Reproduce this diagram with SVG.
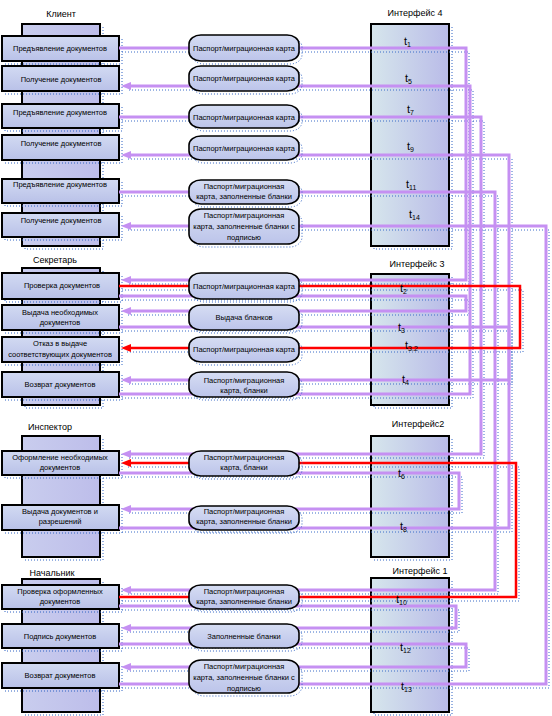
<svg xmlns="http://www.w3.org/2000/svg" width="552" height="716" viewBox="0 0 552 716">
<defs>
<linearGradient id="gBox" x1="0" y1="0" x2="0" y2="1"><stop offset="0" stop-color="#d2daf2"/><stop offset="1" stop-color="#b9c1e8"/></linearGradient>
<linearGradient id="gPillar" x1="0" y1="0" x2="1" y2="0"><stop offset="0" stop-color="#c9cdee"/><stop offset="1" stop-color="#bdbdea"/></linearGradient>
<linearGradient id="gOval" x1="0" y1="0" x2="0" y2="1"><stop offset="0" stop-color="#d6ddf3"/><stop offset="1" stop-color="#bcc4ea"/></linearGradient>
<linearGradient id="gIface" x1="0" y1="0" x2="1" y2="0"><stop offset="0" stop-color="#d6e6ec"/><stop offset="1" stop-color="#b9bbe8"/></linearGradient>
<marker id="ap" markerUnits="userSpaceOnUse" markerWidth="12" markerHeight="10" refX="0" refY="4" orient="auto" overflow="visible"><path d="M0,0 L10,4 L0,8 Z" fill="#c590f2"/></marker>
<marker id="ar" markerUnits="userSpaceOnUse" markerWidth="12" markerHeight="10" refX="0" refY="4" orient="auto" overflow="visible"><path d="M0,0 L10,4 L0,8 Z" fill="#ff0000"/></marker>
</defs>
<style>
.pillar{fill:url(#gPillar);stroke:#000;stroke-width:2}
.box{fill:url(#gBox);stroke:#000;stroke-width:2}
.oval{fill:url(#gOval);stroke:#000;stroke-width:1.6}
.iface{fill:url(#gIface);stroke:#000;stroke-width:2}
.sh{fill:none;stroke:#2f62c4;stroke-width:1;stroke-dasharray:1 2}
.lbl{font-family:"Liberation Sans",Arial,sans-serif;font-size:7.5px;fill:#000;text-anchor:middle}
.ttl{font-family:"Liberation Sans",Arial,sans-serif;font-size:9px;fill:#000;text-anchor:middle}
.tl{font-family:"Liberation Sans",Arial,sans-serif;font-size:11px;fill:#000}
.sub{font-size:7px}
.pl{fill:none;stroke:#c590f2;stroke-width:3}
.rl{fill:none;stroke:#ff0000;stroke-width:2.5}
.lsh{fill:none;stroke:#3a6cc8;stroke-width:1;stroke-dasharray:1 2}
</style>
<rect width="552" height="716" fill="#fff"/>

<!-- Lane: Client -->
<g id="lane-client">
<text class="ttl" x="61" y="17">Клиент</text>
<rect class="sh" x="25" y="27" width="78" height="222"/>
<rect class="pillar" x="22" y="24" width="78" height="222"/>
</g>
<g id="client-1"><rect class="sh" x="5" y="39" width="117" height="25"/><rect class="box" x="2" y="36" width="117" height="25"/><text class="lbl" x="60" y="51">Предъявление документов</text></g>
<g id="client-2"><rect class="sh" x="5" y="69" width="117" height="25"/><rect class="box" x="2" y="66" width="117" height="25"/><text class="lbl" x="61" y="82">Получение документов</text></g>
<g id="client-3"><rect class="sh" x="5" y="107" width="117" height="24"/><rect class="box" x="2" y="104" width="117" height="24"/><text class="lbl" x="60" y="115">Предъявление документов</text></g>
<g id="client-4"><rect class="sh" x="5" y="138" width="117" height="25"/><rect class="box" x="2" y="135" width="117" height="25"/><text class="lbl" x="61" y="146">Получение документов</text></g>
<g id="client-5"><rect class="sh" x="5" y="182" width="117" height="24"/><rect class="box" x="2" y="179" width="117" height="24"/><text class="lbl" x="60" y="187">Предъявление документов</text></g>
<g id="client-6"><rect class="sh" x="5" y="216" width="117" height="24"/><rect class="box" x="2" y="213" width="117" height="24"/><text class="lbl" x="61" y="223">Получение документов</text></g>

<!-- Lane: Secretary -->
<g id="lane-secretary">
<text class="ttl" x="55" y="263">Секретарь</text>
<rect class="sh" x="25" y="271" width="78" height="137"/>
<rect class="pillar" x="22" y="268" width="78" height="137"/>
</g>
<g id="sec-1"><rect class="sh" x="5" y="276" width="117" height="26"/><rect class="box" x="2" y="273" width="117" height="26"/><text class="lbl" x="62" y="288">Проверка документов</text></g>
<g id="sec-2"><rect class="sh" x="5" y="308" width="117" height="25"/><rect class="box" x="2" y="305" width="117" height="25"/><text class="lbl" x="60" y="315">Выдача необходимых</text><text class="lbl" x="60" y="325">документов</text></g>
<g id="sec-3"><rect class="sh" x="5" y="340" width="117" height="25"/><rect class="box" x="2" y="337" width="117" height="25"/><text class="lbl" x="60" y="346">Отказ в выдаче</text><text class="lbl" x="60" y="357">соответствующих документов</text></g>
<g id="sec-4"><rect class="sh" x="5" y="375" width="117" height="25"/><rect class="box" x="2" y="372" width="117" height="25"/><text class="lbl" x="60" y="387">Возврат документов</text></g>

<!-- Lane: Inspector -->
<g id="lane-inspector">
<text class="ttl" x="50" y="430">Инспектор</text>
<rect class="sh" x="25" y="439" width="78" height="121"/>
<rect class="pillar" x="22" y="436" width="78" height="121"/>
</g>
<g id="insp-1"><rect class="sh" x="5" y="454" width="117" height="24"/><rect class="box" x="2" y="451" width="117" height="24"/><text class="lbl" x="60" y="460">Оформление необходимых</text><text class="lbl" x="60" y="470">документов</text></g>
<g id="insp-2"><rect class="sh" x="5" y="508" width="117" height="25"/><rect class="box" x="2" y="505" width="117" height="25"/><text class="lbl" x="60" y="514">Выдача документов и</text><text class="lbl" x="60" y="524">разрешений</text></g>

<!-- Lane: Chief -->
<g id="lane-chief">
<text class="ttl" x="52" y="576">Начальник</text>
<rect class="sh" x="25" y="582" width="78" height="133"/>
<rect class="pillar" x="22" y="579" width="78" height="133"/>
</g>
<g id="chief-1"><rect class="sh" x="5" y="588" width="117" height="24"/><rect class="box" x="2" y="585" width="117" height="24"/><text class="lbl" x="60" y="594">Проверка оформленных</text><text class="lbl" x="60" y="604">документов</text></g>
<g id="chief-2"><rect class="sh" x="5" y="627" width="117" height="24"/><rect class="box" x="2" y="624" width="117" height="24"/><text class="lbl" x="60" y="639">Подпись документов</text></g>
<g id="chief-3"><rect class="sh" x="5" y="666" width="117" height="25"/><rect class="box" x="2" y="663" width="117" height="25"/><text class="lbl" x="60" y="678">Возврат документов</text></g>

<!-- Interfaces -->
<g id="iface-4">
<text class="ttl" x="415" y="16">Интерфейс 4</text>
<rect class="sh" x="374" y="27" width="78" height="222"/>
<rect class="iface" x="371" y="24" width="78" height="222"/>
</g>
<g id="iface-3">
<text class="ttl" x="417" y="267">Интерфейс 3</text>
<rect class="sh" x="374" y="277" width="78" height="131"/>
<rect class="iface" x="371" y="274" width="78" height="131"/>
</g>
<g id="iface-2">
<text class="ttl" x="418" y="427">Интерфейс2</text>
<rect class="sh" x="374" y="439" width="78" height="121"/>
<rect class="iface" x="371" y="436" width="78" height="121"/>
</g>
<g id="iface-1">
<text class="ttl" x="420" y="574">Интерфейс 1</text>
<rect class="sh" x="374" y="581" width="78" height="134"/>
<rect class="iface" x="371" y="578" width="78" height="134"/>
</g>

<!-- Connectors -->
<g id="connectors">
<g transform="translate(3,4)">
<path class="lsh" d="M119,48 H466 V280 H124"/>
<path class="lsh" d="M119,296 H466 V311 H124"/>
<path class="lsh" d="M119,286 H520 V348 H124"/>
<path class="lsh" d="M119,327 H509 V380 H124"/>
<path class="lsh" d="M119,394 H470 V86 H124"/>
<path class="lsh" d="M119,117 H481 V454 H124"/>
<path class="lsh" d="M119,473 H459 V509 H124"/>
<path class="lsh" d="M119,528 H509 V155 H124"/>
<path class="lsh" d="M119,192 H495 V590 H124"/>
<path class="lsh" d="M119,597 H516 V463 H124"/>
<path class="lsh" d="M119,606 H456 V628 H124"/>
<path class="lsh" d="M119,644 H466 V667 H124"/>
<path class="lsh" d="M119,684 H546 V226 H124"/>
</g>
<path class="pl" d="M119,48 H466 V280 H131" marker-end="url(#ap)"/>
<path class="pl" d="M119,296 H466 V311 H131" marker-end="url(#ap)"/>
<path class="pl" d="M119,327 H509 V380 H131" marker-end="url(#ap)"/>
<path class="pl" d="M119,394 H470 V86 H131" marker-end="url(#ap)"/>
<path class="pl" d="M119,117 H481 V454 H131" marker-end="url(#ap)"/>
<path class="pl" d="M119,473 H459 V509 H131" marker-end="url(#ap)"/>
<path class="pl" d="M119,528 H509 V155 H131" marker-end="url(#ap)"/>
<path class="pl" d="M119,192 H495 V590 H131" marker-end="url(#ap)"/>
<path class="pl" d="M119,606 H456 V628 H131" marker-end="url(#ap)"/>
<path class="pl" d="M119,644 H466 V667 H131" marker-end="url(#ap)"/>
<path class="pl" d="M119,684 H546 V226 H131" marker-end="url(#ap)"/>
<path class="rl" d="M119,286 H520 V348 H131" marker-end="url(#ar)"/>
<path class="rl" d="M119,597 H516 V463 H131" marker-end="url(#ar)"/>
</g>

<!-- Interface time labels -->
<g id="iface-labels">
<text class="tl" x="404" y="45">t<tspan class="sub" dy="2">1</tspan></text>
<text class="tl" x="405" y="82">t<tspan class="sub" dy="2">5</tspan></text>
<text class="tl" x="407" y="113">t<tspan class="sub" dy="2">7</tspan></text>
<text class="tl" x="407" y="150">t<tspan class="sub" dy="2">9</tspan></text>
<text class="tl" x="406" y="188">t<tspan class="sub" dy="2">11</tspan></text>
<text class="tl" x="409" y="218">t<tspan class="sub" dy="2">14</tspan></text>
<text class="tl" x="400" y="292">t<tspan class="sub" dy="2">2</tspan></text>
<text class="tl" x="398" y="331">t<tspan class="sub" dy="2">3</tspan></text>
<text class="tl" x="405" y="349">t<tspan class="sub" dy="2">3.2</tspan></text>
<text class="tl" x="402" y="383">t<tspan class="sub" dy="2">4</tspan></text>
<text class="tl" x="398" y="477">t<tspan class="sub" dy="2">6</tspan></text>
<text class="tl" x="400" y="530">t<tspan class="sub" dy="2">8</tspan></text>
<text class="tl" x="396" y="603">t<tspan class="sub" dy="2">10</tspan></text>
<text class="tl" x="400" y="651">t<tspan class="sub" dy="2">12</tspan></text>
<text class="tl" x="401" y="690">t<tspan class="sub" dy="2">13</tspan></text>
</g>

<!-- Document ovals -->
<g id="doc-1"><rect class="sh" x="192" y="38" width="110" height="26" rx="12" ry="9"/><rect class="oval" x="189" y="35" width="110" height="26" rx="12" ry="9"/><text class="lbl" x="244" y="51">Паспорт/миграционная карта</text></g>
<g id="doc-2"><rect class="sh" x="192" y="69" width="110" height="25" rx="12" ry="9"/><rect class="oval" x="189" y="66" width="110" height="25" rx="12" ry="9"/><text class="lbl" x="244" y="81">Паспорт/миграционная карта</text></g>
<g id="doc-3"><rect class="sh" x="192" y="108" width="110" height="23" rx="12" ry="9"/><rect class="oval" x="189" y="105" width="110" height="23" rx="12" ry="9"/><text class="lbl" x="244" y="120">Паспорт/миграционная карта</text></g>
<g id="doc-4"><rect class="sh" x="192" y="139" width="110" height="24" rx="12" ry="9"/><rect class="oval" x="189" y="136" width="110" height="24" rx="12" ry="9"/><text class="lbl" x="244" y="151">Паспорт/миграционная карта</text></g>
<g id="doc-5"><rect class="sh" x="192" y="183" width="110" height="24" rx="12" ry="9"/><rect class="oval" x="189" y="180" width="110" height="24" rx="12" ry="9"/><text class="lbl" x="244" y="189">Паспорт/миграционная</text><text class="lbl" x="244" y="199">карта, заполненные бланки</text></g>
<g id="doc-6"><rect class="sh" x="192" y="212" width="110" height="35" rx="12" ry="10"/><rect class="oval" x="189" y="209" width="110" height="35" rx="12" ry="10"/><text class="lbl" x="244" y="218">Паспорт/миграционная</text><text class="lbl" x="244" y="229">карта, заполненные бланки с</text><text class="lbl" x="244" y="240">подписью</text></g>
<g id="doc-7"><rect class="sh" x="192" y="276" width="110" height="26" rx="12" ry="9"/><rect class="oval" x="189" y="273" width="110" height="26" rx="12" ry="9"/><text class="lbl" x="244" y="289">Паспорт/миграционная карта</text></g>
<g id="doc-8"><rect class="sh" x="192" y="308" width="110" height="25" rx="12" ry="9"/><rect class="oval" x="189" y="305" width="110" height="25" rx="12" ry="9"/><text class="lbl" x="244" y="320">Выдача бланков</text></g>
<g id="doc-9"><rect class="sh" x="192" y="340" width="110" height="25" rx="12" ry="9"/><rect class="oval" x="189" y="337" width="110" height="25" rx="12" ry="9"/><text class="lbl" x="244" y="352">Паспорт/миграционная карта</text></g>
<g id="doc-10"><rect class="sh" x="192" y="375" width="110" height="25" rx="12" ry="9"/><rect class="oval" x="189" y="372" width="110" height="25" rx="12" ry="9"/><text class="lbl" x="244" y="383">Паспорт/миграционная</text><text class="lbl" x="244" y="393">карта, бланки</text></g>
<g id="doc-11"><rect class="sh" x="192" y="454" width="110" height="25" rx="12" ry="9"/><rect class="oval" x="189" y="451" width="110" height="25" rx="12" ry="9"/><text class="lbl" x="244" y="460">Паспорт/миграционная</text><text class="lbl" x="244" y="470">карта, бланки</text></g>
<g id="doc-12"><rect class="sh" x="192" y="509" width="110" height="24" rx="12" ry="9"/><rect class="oval" x="189" y="506" width="110" height="24" rx="12" ry="9"/><text class="lbl" x="244" y="514">Паспорт/миграционная</text><text class="lbl" x="244" y="524">карта, заполненные бланки</text></g>
<g id="doc-13"><rect class="sh" x="192" y="588" width="110" height="24" rx="12" ry="9"/><rect class="oval" x="189" y="585" width="110" height="24" rx="12" ry="9"/><text class="lbl" x="244" y="594">Паспорт/миграционная</text><text class="lbl" x="244" y="604">карта, заполненные бланки</text></g>
<g id="doc-14"><rect class="sh" x="192" y="627" width="110" height="24" rx="12" ry="9"/><rect class="oval" x="189" y="624" width="110" height="24" rx="12" ry="9"/><text class="lbl" x="244" y="639">Заполненные бланки</text></g>
<g id="doc-15"><rect class="sh" x="192" y="663" width="110" height="33" rx="12" ry="10"/><rect class="oval" x="189" y="660" width="110" height="33" rx="12" ry="10"/><text class="lbl" x="244" y="669">Паспорт/миграционная</text><text class="lbl" x="244" y="680">карта, заполненные бланки с</text><text class="lbl" x="244" y="691">подписью</text></g>
</svg>
